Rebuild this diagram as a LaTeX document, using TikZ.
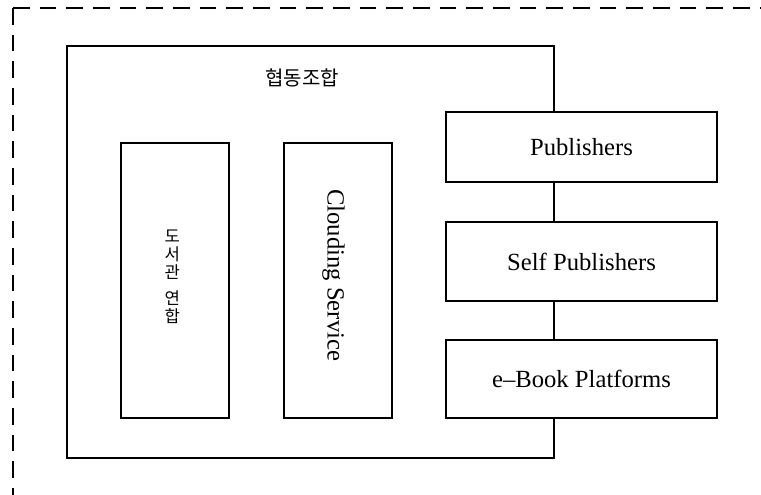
\documentclass[tikz,border=0pt]{standalone}
\usepackage{fontspec}
\setmainfont{Liberation Serif}
\newfontfamily\kofont{Noto Sans CJK KR}
\usetikzlibrary{positioning}

\begin{document}
\begin{tikzpicture}[x=0.75pt, y=-0.75pt,
  frame/.style={draw, line width=1.5pt},
  outline/.style={dash pattern=on 12.5pt off 7.5pt, line width=1.5pt},
  tallbox/.style={frame, minimum width=81pt, minimum height=206pt, inner sep=0pt},
  partner/.style={frame, fill=white, minimum width=203pt, inner sep=0pt, font=\fontsize{18.5}{20}\selectfont}]

\useasboundingbox (0,0) rectangle (761,495);

% outer
\coordinate (corner) at (13,8);
\draw[outline] (corner) -- (761,8);
\draw[outline] (corner) -- (13,495);

% coop
\node[frame, minimum width=365.25pt, minimum height=309pt, inner sep=0pt] (coop) at (310.5,252) {};
\node[font=\kofont\fontsize{15}{16}\selectfont] (coop-title) at (302,78) {협동조합};

\node[tallbox] (lib) at (175,280.5) {};
\node[font=\kofont\fontsize{12.5}{13.5}\selectfont, align=center] (lib-text) at ([xshift=-2pt, yshift=3pt] lib) {도\\서\\관\\[6pt]연\\합};

\node[tallbox] (cloud) at (337.5,280.5) {};
\node[rotate=-90, font=\fontsize{18.5}{20}\selectfont] (cloud-text) at ([xshift=-3pt, yshift=4pt] cloud) {Clouding Service};

% partners
\node[partner, minimum height=52.5pt] (pub) at (581.5,147) {Publishers};
\node[partner, minimum height=59pt] (self) at (581.5,261.5) {Self Publishers};
\node[partner, minimum height=58.5pt] (ebook) at (581.5,379) {e–Book Platforms};

\end{tikzpicture}
\end{document}
